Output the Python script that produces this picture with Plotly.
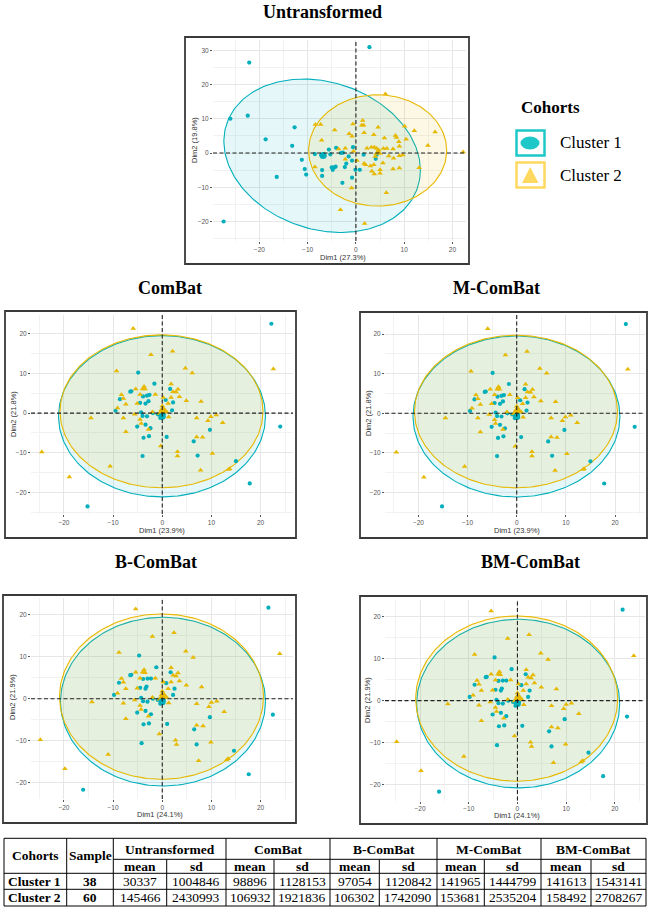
import numpy as np
import plotly.graph_objects as go

W, H = 651, 914
TEAL = "#00AFBB"
GOLD = "#E7B800"
LEG_TEAL = "#1EC8C8"
LEG_GOLD = "#FFD860"
SERIF = "Liberation Serif"
SANS = "Liberation Sans"

# ---------------- data: PCA scores (Dim1, Dim2) ----------------
untr_c1_x = [2.8, -22.1, -22.4, -26.0, -12.7, -18.7, -13.2, -11.2, -10.6, -10.3, -16.4, -27.4, -5.6, -5.3,
             -4.1, -3.1, -2.7, -0.6, -2.0, -2.3, -0.8, -0.1, 0.8, -0.8, -2.8, -7.0, -7.0, -5.0, -4.5, -4.8,
             -4.2, 1.6, 4.1, 4.3, -7.2, -1.5, -8.5, -6.5]
untr_c1_y = [30.9, 26.4, 10.9, 10.0, 7.5, 4.0, 2.1, -2.0, -4.7, -6.3, -7.0, -20.0, 1.0, -0.4,
             1.5, 0.0, 0.1, 1.7, -3.1, -4.1, -2.2, -4.9, -4.9, -7.2, -8.7, -5.0, -6.7, -4.2, -4.2, -4.9,
             -4.0, -0.5, -1.7, -0.5, -0.6, -1.0, -0.3, -0.9]
untr_c2_x = [6.1, 1.4, 1.2, 1.6, -8.4, -7.3, -4.4, -0.6, -1.4, -0.8, -7.1, 1.7, 4.6, 3.7, 10.1, 12.1, 16.4,
             8.2, 8.4, 5.9, 10.4, 8.9, 9.0, 14.9, 22.2, 2.3, 3.2, 3.8, 4.3, 4.7, 5.7, 6.4, 7.7, 7.8, 9.0,
             9.7, -2.2, -2.2, -3.6, 1.7, 2.0, 3.0, 3.7, 3.3, 3.8, 5.0, 5.0, 5.6, 7.7, 9.0, 13.1, -8.5, -0.9,
             6.3, -3.2, 1.8, 0.2, 4.0, 6.8, -0.5]
untr_c2_y = [17.2, 9.5, 8.1, 8.1, 8.3, 8.3, 6.7, 8.5, 5.6, 4.9, 3.7, 5.9, 7.5, 5.3, 7.8, 6.5, 6.1,
             5.1, 4.5, 4.4, 4.0, 3.3, 2.0, 2.2, 0.3, 1.4, 1.7, 1.7, 1.3, 0.9, 1.3, 1.3, 1.2, -1.5, -0.8,
             -0.6, -1.8, 1.4, 1.2, -3.1, -3.4, -3.8, -3.4, -5.3, -6.1, -4.9, -5.9, -2.9, -4.7, -4.4, -4.3, -4.1, -10.2,
             -11.6, -16.6, -20.6, -2.2, -1.0, -0.9, 0.5]

combat_c1_x = [22.2, 24.0, -4.9, -1.6, 1.6, 0.7, 2.2, 2.0, -6.5, -6.3, -8.6, -9.5, -3.9, -3.1, -2.6, -2.8,
               -3.4, -4.5, -4.3, -4.0, -3.1, -5.1, -3.4, -2.4, -2.7, -3.8, 0.9, -0.9, 6.4, 7.2, 9.7, -4.0,
               15.0, 17.8, -15.2, -1.9, 0.3, -0.4]
combat_c1_y = [22.5, -3.4, 10.2, 7.4, 6.1, 3.3, 2.7, 0.7, 5.4, 5.5, 3.5, 0.6, 4.2, 4.4, 4.6, 3.0,
               2.4, 2.6, 0.2, -0.7, -0.8, -3.4, -2.9, -3.8, -5.8, -6.2, -6.0, -0.3, -7.1, -10.7, -4.2, -10.8,
               -12.1, -17.7, -23.5, 0.0, -0.2, -1.2]
combat_c2_x = [-5.9, -2.3, 2.1, 4.7, 6.1, -9.3, 22.6, -3.7, -4.0, -5.4, -3.5, -4.5, -8.3, -7.9, -7.4, -9.1,
               -5.1, -1.4, 1.8, 2.2, 2.8, 3.2, 3.5, 0.2, 1.8, 4.9, 7.9, -14.5, -7.9, -5.6, -4.5, -4.3, -2.8,
               -7.4, -0.3, 7.0, 9.3, 9.9, 11.0, 12.3, 7.0, 8.2, 3.1, 3.1, 10.2, 7.8, 13.5, 13.7, -24.5, -18.9,
               -10.6, 0.2, -0.2, 0.5, 0.9, 0.0, 1.2, -0.6, 1.3, -2.0]
combat_c2_y = [21.3, 14.7, 15.6, 11.3, 10.1, 10.6, 11.1, 6.7, 6.1, 6.1, 6.1, 4.7, 4.6, 3.7, 2.2, 1.3,
               2.4, 4.7, 7.3, 5.4, 5.3, 6.0, 4.1, 3.9, 3.9, 3.1, 2.9, -1.2, -1.2, -0.3, -1.6, -2.6, -4.1,
               -4.7, -8.3, -1.2, -1.9, -0.9, -0.5, -2.4, -6.0, -6.1, -9.7, -10.8, -10.2, -14.4, -14.2, -14.0, -9.8, -16.1,
               -13.4, 1.2, 0.8, 0.8, 0.3, 1.8, 2.4, -0.1, -1.0, 0.3]

bcombat_c1_x = [21.6, 22.5, -4.7, -1.2, 1.7, 0.8, 2.5, 2.2, -6.5, -6.3, -8.8, -9.8, -3.9, -3.0, -2.3, -3.2,
                -3.4, -4.5, -4.3, -3.9, -3.0, -5.1, -3.4, -2.3, -2.7, -3.8, 1.0, -0.9, 6.5, 7.0, 9.7, -4.2,
                14.6, 17.6, -16.1, -1.9, 0.3, -0.4]
bcombat_c1_y = [21.7, -3.8, 10.3, 7.5, 6.3, 3.7, 2.4, 0.9, 5.6, 5.7, 3.8, 0.9, 4.7, 4.8, 4.8, 2.9,
                2.4, 2.6, 0.2, -0.6, -0.7, -3.3, -2.9, -3.7, -5.9, -6.1, -6.0, -0.3, -7.3, -10.9, -4.4, -10.6,
                -12.4, -18.0, -21.7, 0.0, -0.2, -1.2]
bcombat_c2_x = [-5.4, -2.0, 2.4, 4.8, 6.3, -8.8, 23.9, -3.7, -4.0, -5.4, -3.5, -4.5, -8.3, -7.9, -7.4, -9.1,
                -5.1, -1.4, 1.8, 2.2, 2.8, 3.2, 3.5, 0.2, 1.8, 4.9, 8.0, -14.3, -7.9, -5.6, -4.5, -4.3, -2.8,
                -7.4, -0.6, 7.0, 9.5, 10.0, 11.1, 12.6, 7.0, 8.3, 2.7, 2.9, 9.9, 7.4, 13.1, 13.4, -24.8, -19.8,
                -11.0, 0.2, -0.2, 0.5, 0.9, 0.0, 1.2, -0.6, 1.3, -2.0]
bcombat_c2_y = [21.4, 14.8, 15.7, 11.3, 9.8, 11.0, 10.7, 6.9, 6.3, 6.3, 6.2, 4.9, 4.8, 3.9, 2.4, 1.3,
                2.5, 4.9, 7.4, 5.6, 5.4, 6.1, 4.2, 4.0, 4.0, 3.2, 2.8, -0.8, -1.1, -0.3, -1.6, -2.6, -4.2,
                -4.8, -8.4, -1.2, -1.9, -0.9, -0.6, -3.1, -6.3, -6.5, -9.9, -10.9, -10.4, -14.8, -14.6, -14.3, -9.8, -16.7,
                -13.3, 1.2, 0.8, 0.8, 0.3, 1.8, 2.4, -0.1, -1.0, 0.3]

# group means (large markers) : [x, y]
untr_mean_c1 = [-6.8, -0.7]
untr_mean_c2 = [4.6, 0.1]
combat_mean_c1 = [0.0, -0.8]
combat_mean_c2 = [0.1, 0.5]
bcombat_mean_c1 = [0.0, -0.7]
bcombat_mean_c2 = [0.1, 0.4]

# concentration ellipses: [cx, cy, rx, ry, phase]
untr_ell_c1 = [-7.0, -0.8, 20.35, 22.4, -0.19]
untr_ell_c2 = [4.5, 0.75, 14.3, 16.25, 0.0]
combat_ell_c1 = [-0.05, -0.8, 21.05, 20.3, 0.0]
combat_ell_c2 = [-0.15, 0.45, 20.65, 19.25, 0.0]
bcombat_ell_c1 = [0.15, -0.7, 20.85, 20.1, 0.0]
bcombat_ell_c2 = [-0.15, 0.5, 20.75, 19.7, 0.0]

# table
methods = ["Untransformed", "ComBat", "B-ComBat", "M-ComBat", "BM-ComBat"]
cohorts = ["Cluster 1", "Cluster 2"]
samples = [38, 60]
mean_c1 = [30337, 98896, 97054, 141965, 141613]
sd_c1 = [1004846, 1128153, 1120842, 1444799, 1543141]
mean_c2 = [145466, 106932, 106302, 153681, 158492]
sd_c2 = [2430993, 1921836, 1742090, 2535204, 2708267]

# ---------------- layout helpers ----------------
def px(x):
    return x / W

def py(y):
    return 1 - y / H

def ellipse(p, n=240):
    cx, cy, rx, ry, ph = p
    t = np.linspace(0, 2 * np.pi, n)
    return cx + rx * np.cos(t), cy + ry * np.sin(t + ph)

panels = [
    dict(title="Untransformed", plot=(213, 466, 40, 241), xr=(-29.6, 22.8), yr=(-25.7, 33.0),
         frame=(185, 469, 37, 264), tpos=(322, 12), xt=(343, 257), yt=(194, 140),
         xlab="Dim1 (27.3%)", ylab="Dim2 (19.8%)", yticks=[-20, -10, 0, 10, 20, 30],
         data=(untr_c1_x, untr_c1_y, untr_c2_x, untr_c2_y, untr_mean_c1, untr_mean_c2, untr_ell_c1, untr_ell_c2)),
    dict(title="ComBat", plot=(31, 293, 315, 514), xr=(-26.7, 26.6), yr=(-25.4, 24.7),
         frame=(5, 296, 311, 538), tpos=(170, 288), xt=(162, 530), yt=(13, 414),
         xlab="Dim1 (23.9%)", ylab="Dim2 (21.8%)", yticks=[-20, -10, 0, 10, 20],
         data=(combat_c1_x, combat_c1_y, combat_c2_x, combat_c2_y, combat_mean_c1, combat_mean_c2, combat_ell_c1, combat_ell_c2)),
    dict(title="M-ComBat", plot=(385, 645, 315, 514), xr=(-26.8, 26.1), yr=(-25.4, 24.8),
         frame=(360, 647, 312, 538), tpos=(496, 288), xt=(517, 530), yt=(368, 413),
         xlab="Dim1 (23.9%)", ylab="Dim2 (21.8%)", yticks=[-20, -10, 0, 10, 20],
         data=(combat_c1_x, combat_c1_y, combat_c2_x, combat_c2_y, combat_mean_c1, combat_mean_c2, combat_ell_c1, combat_ell_c2)),
    dict(title="B-ComBat", plot=(31, 293, 598, 799), xr=(-26.7, 26.6), yr=(-23.9, 24.0),
         frame=(3, 296, 595, 823), tpos=(156, 562), xt=(160, 814.5), yt=(12, 697),
         xlab="Dim1 (24.1%)", ylab="Dim2 (21.9%)", yticks=[-20, -10, 0, 10, 20],
         data=(bcombat_c1_x, bcombat_c1_y, bcombat_c2_x, bcombat_c2_y, bcombat_mean_c1, bcombat_mean_c2, bcombat_ell_c1, bcombat_ell_c2)),
    dict(title="BM-ComBat", plot=(385, 645, 600, 800.5), xr=(-27.2, 26.2), yr=(-23.8, 24.0),
         frame=(360, 647, 596, 824), tpos=(530, 562), xt=(517, 815.5), yt=(367, 700),
         xlab="Dim1 (24.1%)", ylab="Dim2 (21.9%)", yticks=[-20, -10, 0, 10, 20],
         data=(bcombat_c1_x, bcombat_c1_y, bcombat_c2_x, bcombat_c2_y, bcombat_mean_c1, bcombat_mean_c2, bcombat_ell_c1, bcombat_ell_c2)),
]

fig = go.Figure()
shapes = []
annotations = []
layout_axes = {}

for i, p in enumerate(panels, start=1):
    xa = "x" if i == 1 else f"x{i}"
    ya = "y" if i == 1 else f"y{i}"
    c1x, c1y, c2x, c2y, m1, m2, e1, e2 = p["data"]
    ex, ey = ellipse(e1)
    fig.add_trace(go.Scatter(x=ex, y=ey, mode="lines", fill="toself", fillcolor="rgba(0,175,187,0.10)",
                             line=dict(color=TEAL, width=1.1), xaxis=xa, yaxis=ya, hoverinfo="skip", showlegend=False))
    ex, ey = ellipse(e2)
    fig.add_trace(go.Scatter(x=ex, y=ey, mode="lines", fill="toself", fillcolor="rgba(231,184,0,0.10)",
                             line=dict(color=GOLD, width=1.1), xaxis=xa, yaxis=ya, hoverinfo="skip", showlegend=False))
    fig.add_trace(go.Scatter(x=c1x, y=c1y, mode="markers", marker=dict(color=TEAL, size=4.2, symbol="circle"),
                             xaxis=xa, yaxis=ya, showlegend=False, name="Cluster 1"))
    fig.add_trace(go.Scatter(x=c2x, y=c2y, mode="markers", marker=dict(color=GOLD, size=5, symbol="triangle-up"),
                             xaxis=xa, yaxis=ya, showlegend=False, name="Cluster 2"))
    fig.add_trace(go.Scatter(x=[m2[0]], y=[m2[1]], mode="markers", marker=dict(color=GOLD, size=8, symbol="triangle-up"),
                             xaxis=xa, yaxis=ya, showlegend=False, hoverinfo="skip"))
    fig.add_trace(go.Scatter(x=[m1[0]], y=[m1[1]], mode="markers", marker=dict(color=TEAL, size=7, symbol="circle"),
                             xaxis=xa, yaxis=ya, showlegend=False, hoverinfo="skip"))

    x0, x1, y0, y1 = p["plot"]
    common = dict(showgrid=True, gridcolor="#E6E6E6", gridwidth=0.6, zeroline=False, showline=False,
                  ticks="outside", ticklen=2, tickwidth=0.6, tickcolor="#555555",
                  tickfont=dict(family=SANS, size=6.5, color="#555555"),
                  minor=dict(dtick=5, showgrid=True, gridcolor="#F2F2F2", gridwidth=0.4, ticks=""),
                  fixedrange=True)
    key_x = "xaxis" if i == 1 else f"xaxis{i}"
    key_y = "yaxis" if i == 1 else f"yaxis{i}"
    layout_axes[key_x] = dict(domain=[px(x0), px(x1)], range=list(p["xr"]), anchor=ya,
                              tickvals=[-20, -10, 0, 10, 20], **common)
    layout_axes[key_y] = dict(domain=[py(y1), py(y0)], range=list(p["yr"]), anchor=xa,
                              tickvals=p["yticks"], **common)

    # dashed reference lines
    dash_line = dict(color="#222222", width=1.1, dash="4px,2.5px")
    shapes.append(dict(type="line", xref=xa, yref=f"{ya} domain", x0=0, x1=0, y0=0, y1=1, line=dash_line, layer="above"))
    shapes.append(dict(type="line", xref=f"{xa} domain", yref=ya, x0=0, x1=1, y0=0, y1=0, line=dash_line, layer="above"))

    # frame
    fx0, fx1, fy0, fy1 = p["frame"]
    shapes.append(dict(type="rect", xref="paper", yref="paper", x0=px(fx0), x1=px(fx1), y0=py(fy1), y1=py(fy0),
                       line=dict(color="#3A3A3A", width=1.8), fillcolor="rgba(0,0,0,0)"))

    # titles
    tx, ty = p["tpos"]
    annotations.append(dict(text=f"<b>{p['title']}</b>", x=px(tx), y=py(ty), xref="paper", yref="paper",
                            showarrow=False, font=dict(family=SERIF, size=18, color="black"),
                            xanchor="center", yanchor="middle"))
    ax_, ay_ = p["xt"]
    annotations.append(dict(text=p["xlab"], x=px(ax_), y=py(ay_), xref="paper", yref="paper", showarrow=False,
                            font=dict(family=SANS, size=7.5, color="#333333"), xanchor="center", yanchor="middle"))
    bx_, by_ = p["yt"]
    annotations.append(dict(text=p["ylab"], x=px(bx_), y=py(by_), xref="paper", yref="paper", showarrow=False,
                            textangle=-90, font=dict(family=SANS, size=7.5, color="#333333"),
                            xanchor="center", yanchor="middle"))

# ---------------- legend ----------------
annotations.append(dict(text="<b>Cohorts</b>", x=px(550), y=py(107), xref="paper", yref="paper", showarrow=False,
                        font=dict(family=SERIF, size=17, color="black"), xanchor="center", yanchor="middle"))
for lab, col, yc, sym in [(cohorts[0], LEG_TEAL, 143, "circle"), (cohorts[1], LEG_GOLD, 175, "triangle")]:
    shapes.append(dict(type="rect", xref="paper", yref="paper", x0=px(516.5), x1=px(544.5),
                       y0=py(yc + 12.5), y1=py(yc - 12.5), line=dict(color=col, width=2.5), fillcolor="white"))
    if sym == "circle":
        shapes.append(dict(type="circle", xref="paper", yref="paper", x0=px(520.5), x1=px(539.5),
                           y0=py(yc + 6.5), y1=py(yc - 6.5), line=dict(color=col, width=0), fillcolor=col))
    else:
        path = f"M {px(522):.5f},{py(yc + 8):.5f} L {px(538.5):.5f},{py(yc + 8):.5f} L {px(530.2):.5f},{py(yc - 8):.5f} Z"
        shapes.append(dict(type="path", xref="paper", yref="paper", path=path,
                           line=dict(color=col, width=0), fillcolor=col))
    annotations.append(dict(text=lab, x=px(558), y=py(yc), xref="paper", yref="paper", showarrow=False,
                            font=dict(family=SERIF, size=17, color="black"), xanchor="left", yanchor="middle"))

# ---------------- table ----------------
col_edges = [4, 66.7, 113.3, 166.7, 226, 274, 330, 379.3, 437, 484.3, 541, 591, 646]
row_edges = [838.3, 859.3, 873.3, 889.3, 906]
tline = dict(color="black", width=1)
for yy in [row_edges[0], row_edges[2], row_edges[3], row_edges[4]]:
    shapes.append(dict(type="line", xref="paper", yref="paper", x0=px(col_edges[0]), x1=px(col_edges[-1]),
                       y0=py(yy), y1=py(yy), line=tline))
shapes.append(dict(type="line", xref="paper", yref="paper", x0=px(col_edges[2]), x1=px(col_edges[-1]),
                   y0=py(row_edges[1]), y1=py(row_edges[1]), line=tline))
for j, xx in enumerate(col_edges):
    top = row_edges[0] if (j <= 2 or j % 2 == 0) else row_edges[1]
    shapes.append(dict(type="line", xref="paper", yref="paper", x0=px(xx), x1=px(xx),
                       y0=py(top), y1=py(row_edges[-1]), line=tline))

TF = 13.5
def cell(text, x, y, bold=False, anchor="center"):
    annotations.append(dict(text=f"<b>{text}</b>" if bold else text, x=px(x), y=py(y), xref="paper", yref="paper",
                            showarrow=False, font=dict(family=SERIF, size=TF, color="black"),
                            xanchor=anchor, yanchor="middle"))

mid_hdr = (row_edges[0] + row_edges[2]) / 2
cell("Cohorts", (col_edges[0] + col_edges[1]) / 2, mid_hdr, bold=True)
cell("Sample", (col_edges[1] + col_edges[2]) / 2, mid_hdr, bold=True)
for k, m in enumerate(methods):
    a, b, c = col_edges[2 + 2 * k], col_edges[3 + 2 * k], col_edges[4 + 2 * k]
    cell(m, (a + c) / 2, (row_edges[0] + row_edges[1]) / 2 + 0.5, bold=True)
    cell("mean", (a + b) / 2, (row_edges[1] + row_edges[2]) / 2, bold=True)
    cell("sd", (b + c) / 2, (row_edges[1] + row_edges[2]) / 2, bold=True)

for r, (coh, n, mv, sv) in enumerate([(cohorts[0], samples[0], mean_c1, sd_c1), (cohorts[1], samples[1], mean_c2, sd_c2)]):
    yc = (row_edges[2 + r] + row_edges[3 + r]) / 2
    cell(coh, col_edges[0] + 2, yc, bold=True, anchor="left")
    cell(str(n), (col_edges[1] + col_edges[2]) / 2, yc, bold=True)
    for k in range(len(methods)):
        a, b, c = col_edges[2 + 2 * k], col_edges[3 + 2 * k], col_edges[4 + 2 * k]
        cell(str(mv[k]), (a + b) / 2, yc)
        cell(str(sv[k]), (b + c) / 2, yc)

fig.update_layout(width=W, height=H, margin=dict(l=0, r=0, t=0, b=0), paper_bgcolor="white",
                  plot_bgcolor="white", showlegend=False, shapes=shapes, annotations=annotations, **layout_axes)

fig.write_html("out.html", config={"displayModeBar": False},
               post_script="document.body.style.margin='0';document.body.style.overflow='hidden';")
